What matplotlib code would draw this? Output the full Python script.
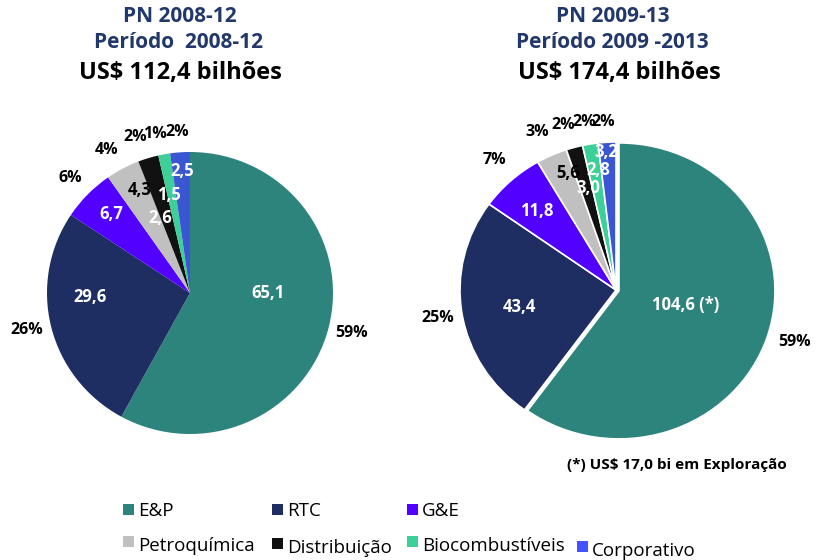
import matplotlib
matplotlib.use("Agg")
import matplotlib.pyplot as plt
from matplotlib.patches import Rectangle

categories = ["E&P", "RTC", "G&E", "Petroquímica", "Distribuição", "Biocombustíveis", "Corporativo"]
values_2008 = [65.1, 29.6, 6.7, 4.3, 2.6, 1.5, 2.5]
values_2009 = [104.6, 43.4, 11.8, 5.6, 3.0, 2.8, 3.2]
pct_2008 = ["59%", "26%", "6%", "4%", "2%", "1%", "2%"]
pct_2009 = ["59%", "25%", "7%", "3%", "2%", "2%", "2%"]
val_labels_2008 = ["65,1", "29,6", "6,7", "4,3", "2,6", "1,5", "2,5"]
val_labels_2009 = ["104,6 (*)", "43,4", "11,8", "5,6", "3,0", "2,8", "3,2"]
colors = ["#2C847C", "#1E2E62", "#5200FF", "#C0C0C0", "#111111", "#3CCF97", "#3A56D2"]
legend_colors = ["#2C847C", "#1E2E62", "#5200FF", "#C0C0C0", "#111111", "#3CCF97", "#4452FF"]
value_text_colors = ["white", "white", "white", "black", "white", "white", "white"]

W, H = 824, 560
fig = plt.figure(figsize=(W / 100, H / 100), dpi=100)

FONT = ["Open Sans", "DejaVu Sans"]
NAVY = "#22386A"

def Y(y):
    return H - y

def pie_axes(cx, cy, rx, ry):
    # axes in figure pixel coords, spanning exactly the (possibly elliptical) pie
    return fig.add_axes([(cx - rx) / W, (H - cy - ry) / H, 2 * rx / W, 2 * ry / H])

# left pie
axL = pie_axes(190, 293, 143, 141)
axL.pie(values_2008, colors=colors, startangle=90, counterclock=False,
        radius=1, wedgeprops=dict(linewidth=0))
axL.set_xlim(-1, 1); axL.set_ylim(-1, 1); axL.set_aspect("auto"); axL.axis("off")

# right pie
axR = pie_axes(616, 290, 156, 148)
axR.pie(values_2009, colors=colors, startangle=90, counterclock=False,
        radius=1, explode=[0.02, 0, 0, 0, 0, 0, 0],
        wedgeprops=dict(linewidth=1.2, edgecolor="white"))
axR.set_xlim(-1, 1); axR.set_ylim(-1, 1); axR.set_aspect("auto"); axR.axis("off")

# overlay axes for text in pixel coordinates
ax = fig.add_axes([0, 0, 1, 1])
ax.set_xlim(0, W)
ax.set_ylim(0, H)
ax.axis("off")
ax.patch.set_alpha(0)

# label positions (layout)
vpos_2008 = [(268, 293), (90, 297), (111, 214), (140, 190), (160, 218), (169, 195), (182, 171)]
vpos_2009 = [(686, 305), (519, 307), (537, 211), (568, 173), (588, 188), (598, 170), (606, 152)]
ppos_2008 = [(352, 333), (27, 330), (70, 178), (107, 150), (135, 137), (155, 134), (177, 132)]
ppos_2009 = [(795, 342), (438, 318), (494, 160), (537, 132), (563, 125), (584, 122), (603, 122)]

for lbls, pos in ((val_labels_2008, vpos_2008), (val_labels_2009, vpos_2009)):
    for t, (x, y), c in zip(lbls, pos, value_text_colors):
        ax.text(x, Y(y), t, color=c, fontsize=12, fontweight="bold", family=FONT,
                ha="center", va="center")
for lbls, pos in ((pct_2008, ppos_2008), (pct_2009, ppos_2009)):
    for t, (x, y) in zip(lbls, pos):
        ax.text(x, Y(y), t, color="black", fontsize=11.5, fontweight="bold", family=FONT,
                ha="center", va="center")

# titles
tkw = dict(fontweight="bold", family=FONT, ha="center", va="center")
ax.text(180, Y(16), "PN 2008-12", color=NAVY, fontsize=15, **tkw)
ax.text(179, Y(42), "Período  2008-12", color=NAVY, fontsize=15, **tkw)
ax.text(180, Y(73), "US$ 112,4 bilhões", color="black", fontsize=17, **tkw)
ax.text(613, Y(16), "PN 2009-13", color=NAVY, fontsize=15, **tkw)
ax.text(612, Y(42), "Período 2009 -2013", color=NAVY, fontsize=15, **tkw)
ax.text(619, Y(73), "US$ 174,4 bilhões", color="black", fontsize=17, **tkw)

ax.text(677, Y(465), "(*) US$ 17,0 bi em Exploração", color="black", fontsize=11, **tkw)

# legend (manual layout)
leg_pos = [(123, 509), (272, 509), (407, 509), (123, 541), (272, 543), (407, 541), (577, 546)]
for name, c, (x, y) in zip(categories, legend_colors, leg_pos):
    ax.add_patch(Rectangle((x, Y(y) - 5.5), 11, 11, color=c, lw=0))
    ax.text(x + 15, Y(y + 2 if y < 530 else y + 5), name, color="black", fontsize=13.5, family=FONT,
            ha="left", va="center")

fig.savefig("out.png", dpi=100)
